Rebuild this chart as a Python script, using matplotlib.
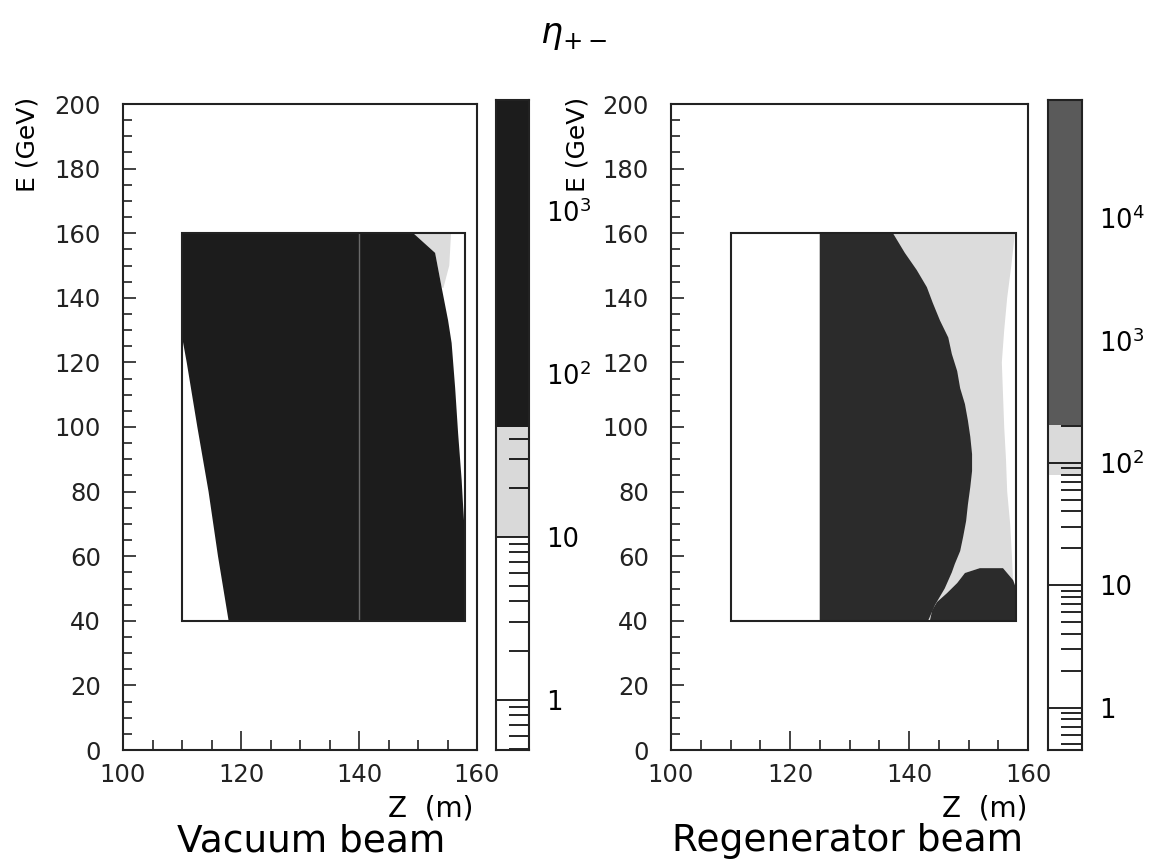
import matplotlib
matplotlib.use("Agg")
import matplotlib.pyplot as plt
from matplotlib.patches import Polygon, Rectangle
from matplotlib import ticker

plt.rcParams['font.family'] = ['DejaVu Sans']
plt.rcParams['font.size'] = 17.5

# axis ranges and the histogram box (Z in m, E in GeV)
z_range = [100, 160]
e_range = [0, 200]
box_z = [110, 158]
box_e = [40, 160]

# vacuum beam: edges of the filled (dark) area and of the light area
vac_left_e = [40, 60, 80, 100, 120, 128, 160]
vac_left_z = [117.9, 116.1, 114.5, 112.6, 110.8, 110.0, 110.0]
vac_right_e = [160, 153.9, 143.3, 133, 126, 112, 98, 83.6, 77, 65, 40]
vac_right_z = [149.2, 152.9, 154.0, 155.1, 155.7, 156.3, 156.8, 157.4, 157.6, 158.0, 158.0]
vac_light_e = [160, 150, 143]
vac_light_z = [155.6, 155.3, 154.3]
vac_seam_z = 140.0

# regenerator beam
reg_left_z = 125.0
reg_right_e = [160, 153.9, 148.6, 143.3, 138.4, 133, 127.7, 122.6, 117.3, 112, 107.1, 102,
               97, 91.6, 86.4, 81.4, 76, 70.9, 66, 61.6, 57.6, 55, 50, 45, 40]
reg_right_z = [137.3, 139.3, 141.3, 143.0, 144.0, 145.2, 146.6, 147.2, 148.1, 148.6, 149.4, 149.9,
               150.3, 150.6, 150.6, 150.3, 149.9, 149.6, 149.1, 148.6, 147.7, 147.2, 146.0, 144.4, 143.2]
reg_bump_e = [40, 43.3, 45.8, 48.6, 51.7, 54.8, 56.3, 56.3, 52.6, 50, 40]
reg_bump_z = [143.5, 143.9, 144.7, 146.4, 148.1, 149.4, 151.9, 155.8, 157.5, 158.0, 158.0]
reg_light_e = [160, 150, 140, 130, 120, 110, 100, 90, 80, 70, 60, 52]
reg_light_z = [157.8, 157.2, 156.5, 156.0, 155.6, 155.8, 156.0, 156.3, 156.5, 157.0, 157.3, 157.5]

# colour levels (log scale counts)
vac_levels = [0.49, 10, 47, 4800]
vac_colors = ['white', '#d9d9d9', '#1c1c1c']
vac_ticks = [1, 10, 100, 1000]
vac_ticklabels = ['1', '10', '$10^2$', '$10^3$']

reg_levels = [0.45, 80, 204, 92000]
reg_colors = ['white', '#dadada', '#5a5a5a']
reg_ticks = [1, 10, 100, 1000, 10000]
reg_ticklabels = ['1', '10', '$10^2$', '$10^3$', '$10^4$']

VAC_DARK = '#1c1c1c'
REG_DARK = '#2b2b2b'
LIGHT = '#dcdcdc'

W, H = 1152, 865


def px(x0, x1, ytop, ybot):
    return [x0 / W, (H - ybot) / H, (x1 - x0) / W, (ybot - ytop) / H]


def setup_axes(ax):
    ax.set_xlim(z_range)
    ax.set_ylim(e_range)
    ax.xaxis.set_major_locator(ticker.MultipleLocator(20))
    ax.xaxis.set_minor_locator(ticker.MultipleLocator(5))
    ax.yaxis.set_major_locator(ticker.MultipleLocator(20))
    ax.yaxis.set_minor_locator(ticker.MultipleLocator(5))
    ax.tick_params(which='both', direction='in', top=False, right=False, width=1.2, colors='#222222')
    ax.tick_params(axis='x', which='major', length=13.5, pad=9)
    ax.tick_params(axis='x', which='minor', length=7)
    ax.tick_params(axis='y', which='major', length=9, pad=16)
    ax.tick_params(axis='y', which='minor', length=6.5)
    for s in ax.spines.values():
        s.set_linewidth(1.5)
        s.set_color('#222222')
    ax.add_patch(Rectangle((box_z[0], box_e[0]), box_z[1] - box_z[0], box_e[1] - box_e[0],
                           fill=False, lw=1.5, ec='#222222', zorder=4))


def draw_scale(cax, levels, colors, ticks, labels):
    cax.set_yscale('log')
    cax.set_ylim(levels[0], levels[-1])
    cax.set_xlim(0, 1)
    for lo, hi, c in zip(levels[:-1], levels[1:], colors):
        z = 3 if c == colors[-1] else 1
        cax.axhspan(lo, hi, color=c, lw=0, zorder=z)
    cax.set_xticks([])
    cax.yaxis.tick_right()
    cax.yaxis.set_major_locator(ticker.FixedLocator(ticks))
    cax.yaxis.set_major_formatter(ticker.FixedFormatter(labels))
    cax.yaxis.set_minor_locator(ticker.LogLocator(subs=range(2, 10), numticks=20))
    cax.yaxis.set_minor_formatter(ticker.NullFormatter())
    # major ticks run across the whole bar
    bar_pts = cax.get_position().width * W * 0.72
    cax.tick_params(which='major', direction='in', length=bar_pts, width=1.2, pad=12,
                    left=False, labelsize=18.5)
    cax.tick_params(which='minor', direction='in', length=bar_pts * 0.62, width=1.2, left=False)
    for s in cax.spines.values():
        s.set_linewidth(1.5)
        s.set_color('#222222')
        s.set_zorder(4)


fig = plt.figure(figsize=(W / 100, H / 100), dpi=100)

# ---- vacuum beam
ax_vac = fig.add_axes(px(123, 477, 104, 750))
setup_axes(ax_vac)
dark_pts = list(zip(vac_left_z, vac_left_e)) + list(zip(vac_right_z, vac_right_e))
light_pts = list(zip(vac_light_z, vac_light_e)) + \
    [(z, e) for z, e in zip(vac_right_z, vac_right_e) if e >= vac_light_e[-1]][::-1]
ax_vac.add_patch(Polygon(light_pts, closed=True, fc=LIGHT, ec='none', zorder=2))
ax_vac.add_patch(Polygon(dark_pts, closed=True, fc=VAC_DARK, ec='none', zorder=2.2))
ax_vac.vlines(vac_seam_z, box_e[0], box_e[1], colors='#6a6a6a', lw=1.0, zorder=2.5)

cax_vac = fig.add_axes(px(496, 529, 100, 750))
draw_scale(cax_vac, vac_levels, vac_colors, vac_ticks, vac_ticklabels)

# ---- regenerator beam
ax_reg = fig.add_axes(px(671, 1028, 104, 750))
setup_axes(ax_reg)
light_pts = [(reg_left_z, box_e[1])] + list(zip(reg_light_z, reg_light_e)) + \
    list(zip(reg_bump_z, reg_bump_e))[::-1] + [(reg_left_z, box_e[0])]
main_pts = [(reg_left_z, box_e[0]), (reg_left_z, box_e[1])] + list(zip(reg_right_z, reg_right_e))
bump_pts = list(zip(reg_bump_z, reg_bump_e))
ax_reg.add_patch(Polygon(light_pts, closed=True, fc=LIGHT, ec='none', zorder=2))
ax_reg.add_patch(Polygon(main_pts, closed=True, fc=REG_DARK, ec='none', zorder=2.2))
ax_reg.add_patch(Polygon(bump_pts, closed=True, fc=REG_DARK, ec='none', zorder=2.2))

cax_reg = fig.add_axes(px(1048, 1082, 100, 750))
draw_scale(cax_reg, reg_levels, reg_colors, reg_ticks, reg_ticklabels)

# ---- labels
fig.text(573 / W, (H - 35) / H, r'$\eta_{+-}$', fontsize=25, ha='center', va='center')
for xc in (27, 577):
    fig.text(xc / W, (H - 97) / H, 'E (GeV)', rotation=90, ha='center', va='top', fontsize=18)
for xr in (473, 1027):
    fig.text(xr / W, (H - 809) / H, 'Z  (m)', ha='right', va='center', fontsize=20)
fig.text(311 / W, (H - 851) / H, 'Vacuum beam', ha='center', va='baseline', fontsize=27)
fig.text(848 / W, (H - 851) / H, 'Regenerator beam', ha='center', va='baseline', fontsize=27)

fig.savefig('out.png', dpi=100, facecolor='white')
